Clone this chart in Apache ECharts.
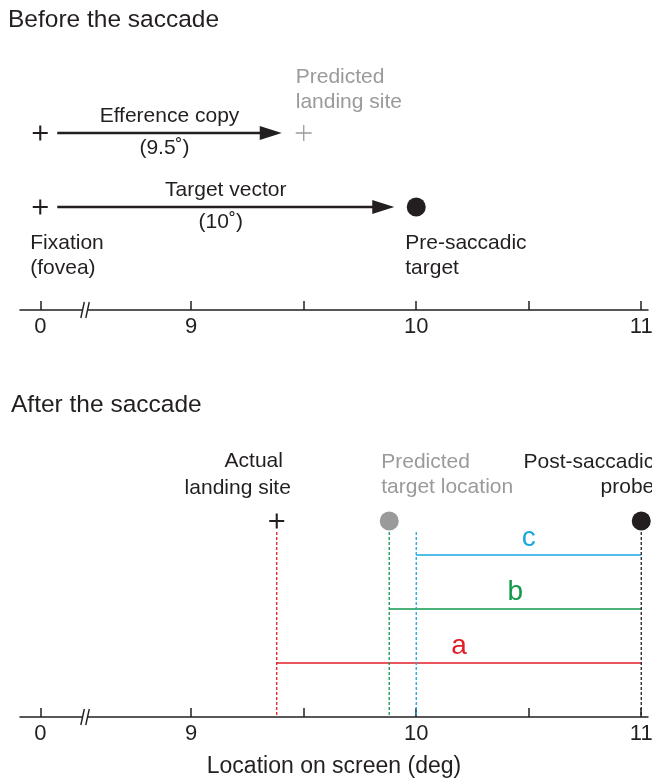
<!DOCTYPE html>
<html>
<head>
<meta charset="utf-8">
<script src="https://cdn.jsdelivr.net/npm/echarts@6/dist/echarts.min.js"></script>
<style>
  html, body { margin: 0; padding: 0; background: #fff; }
  #chart { width: 652px; height: 780px; }
</style>
</head>
<body>
<div id="chart"></div>
<script>
// ---- Values (degrees of visual angle on screen) ----
const tickValues = [0, 9, 9.5, 10, 10.5, 11];
const tickLabels = [0, 9, 10, 11];

const fixation = 0;
const efferenceCopy = 9.5;
const targetVector = 10;

const actualLanding = 9.38;
const predictedTarget = 9.88;
const probe = 11;

const arrowNames = ['Efference copy', 'Target vector'];
const arrowStarts = [fixation, fixation];
const arrowEnds = [efferenceCopy, targetVector];

const errorLetters = ['a', 'b', 'c'];
const errorStarts = [actualLanding, predictedTarget, targetVector];
const errorEnds = [probe, probe, probe];

// ---- Styling / layout ----
const FONT = '"Liberation Sans", Arial, Helvetica, sans-serif';
const INK = '#231f20';
const GREY = '#9a9a9a';
const ERROR_COLORS = ['#e31e26', '#12994a', '#1ba6e0'];

// Axis extent and the compressed stretch between 0 and 9
const AX_MIN = -0.09, AX_MAX = 11.03;
const BREAK_START = 0.187, BREAK_END = 8.538, BREAK_GAP = 0.022;

// Heights (px above each panel's axis line)
const EFF_ROW = 177, TGT_ROW = 103;
const MARK_ROW = 196, DASH_TOP = 185;
const ERROR_ROWS = [54, 108, 162];

const PLUS = 'path://M6.9,0h2.2v6.9h6.9v2.2h-6.9v6.9h-2.2v-6.9h-6.9v-2.2h6.9z';
const PLUS_THIN = 'path://M7.35,0h1.3v7.35h7.35v1.3h-7.35v7.35h-1.3v-7.35h-7.35v-1.3h7.35z';

const chart = echarts.init(document.getElementById('chart'), null, { renderer: 'canvas' });

function xAxisFor(gridIndex, withName) {
  return {
    type: 'value',
    gridIndex,
    min: AX_MIN,
    max: AX_MAX,
    breaks: [{ start: BREAK_START, end: BREAK_END, gap: BREAK_GAP }],
    breakArea: { show: false },
    axisLine: { show: true, lineStyle: { color: INK, width: 1.5 } },
    axisTick: {
      show: true, inside: true, length: 9, customValues: tickValues,
      lineStyle: { color: INK, width: 1.5 }
    },
    axisLabel: {
      show: true, customValues: tickLabels, margin: 6,
      fontSize: 22, color: INK, fontFamily: FONT
    },
    splitLine: { show: false },
    name: withName ? 'Location on screen (deg)' : '',
    nameLocation: 'middle',
    nameGap: 38,
    nameTextStyle: { fontSize: 23, color: INK, fontFamily: FONT }
  };
}

function yAxisFor(gridIndex) {
  return { type: 'value', gridIndex, min: 0, max: 250, show: false };
}

const textStyle = (text, color, size, align) => ({
  text, fill: color, font: `${size}px ${FONT}`, align: align || 'center',
  verticalAlign: 'middle', lineHeight: 25
});

// "//" marks where the axis skips from 0 to 9
function breakSeries(gridIndex) {
  return {
    type: 'custom', xAxisIndex: gridIndex, yAxisIndex: gridIndex,
    silent: true, z: 5,
    data: [[BREAK_START, 0]],
    renderItem(params, api) {
      const s = api.coord([BREAK_START, 0]);
      const e = api.coord([BREAK_END, 0]);
      const y = s[1];
      const slash = (x) => ({
        type: 'line',
        shape: { x1: x + 2, y1: y - 8, x2: x - 1.5, y2: y + 8 },
        style: { stroke: INK, lineWidth: 1.4 }
      });
      return {
        type: 'group',
        children: [
          { type: 'rect', shape: { x: s[0], y: y - 3, width: e[0] - s[0], height: 6 }, style: { fill: '#fff' } },
          slash(s[0]), slash(e[0])
        ]
      };
    }
  };
}

// Text placed relative to a mark, offset in pixels
function annotationSeries(gridIndex, items) {
  return {
    type: 'custom', xAxisIndex: gridIndex, yAxisIndex: gridIndex,
    silent: true, z: 6,
    data: items.map(it => [it.at[0], it.at[1]]),
    renderItem(params, api) {
      const it = items[params.dataIndex];
      const p = api.coord([api.value(0), api.value(1)]);
      return {
        type: 'text', x: p[0] + it.dx, y: p[1] + it.dy,
        style: textStyle(it.text, it.color, it.size || 21, it.align)
      };
    }
  };
}

const markStyle = (color) => ({ color, opacity: 1 });

const option = {
  animation: false,
  backgroundColor: '#fff',
  title: [
    { text: 'Before the saccade', left: 8, top: 8, padding: 0,
      textStyle: { fontSize: 24.5, fontWeight: 'normal', fontFamily: FONT, color: INK } },
    { text: 'After the saccade', left: 11, top: 393, padding: 0,
      textStyle: { fontSize: 24.5, fontWeight: 'normal', fontFamily: FONT, color: INK } }
  ],
  grid: [
    { left: 20, right: 4, top: 60, height: 250, containLabel: false, outerBoundsMode: 'none' },
    { left: 20, right: 4, top: 467, height: 250, containLabel: false, outerBoundsMode: 'none' }
  ],
  xAxis: [xAxisFor(0, false), xAxisFor(1, true)],
  yAxis: [yAxisFor(0), yAxisFor(1)],
  series: [
    // ---------- Before the saccade ----------
    {
      type: 'custom', xAxisIndex: 0, yAxisIndex: 0, silent: true, z: 4,
      data: arrowNames.map((n, i) => [arrowStarts[i], arrowEnds[i], i === 0 ? EFF_ROW : TGT_ROW]),
      encode: { x: [0, 1], y: 2 },
      renderItem(params, api) {
        const i = params.dataIndex;
        const a = api.coord([api.value(0), api.value(2)]);
        const b = api.coord([api.value(1), api.value(2)]);
        const y = a[1];
        const x0 = a[0] + 17;
        const tip = b[0] - 22;
        const headLen = 22, headHalf = 7;
        const mid = (x0 + tip) / 2;
        return {
          type: 'group',
          children: [
            { type: 'line', shape: { x1: x0, y1: y, x2: tip - headLen + 2, y2: y },
              style: { stroke: INK, lineWidth: 2.6 } },
            { type: 'polygon',
              shape: { points: [[tip, y], [tip - headLen, y - headHalf], [tip - headLen, y + headHalf]] },
              style: { fill: INK } },
            { type: 'text', x: mid, y: y - 17, style: textStyle(arrowNames[i], INK, 21) },
            { type: 'text', x: mid - 5, y: y + 15, style: textStyle('(' + arrowEnds[i] + '˚)', INK, 21) }
          ]
        };
      }
    },
    {
      type: 'scatter', xAxisIndex: 0, yAxisIndex: 0, silent: true, z: 4,
      symbol: PLUS, symbolSize: 15, itemStyle: markStyle(INK),
      data: [[fixation, EFF_ROW], [fixation, TGT_ROW]]
    },
    {
      type: 'scatter', xAxisIndex: 0, yAxisIndex: 0, silent: true, z: 4,
      symbol: PLUS_THIN, symbolSize: 16, itemStyle: markStyle(GREY),
      data: [[efferenceCopy, EFF_ROW]]
    },
    {
      type: 'scatter', xAxisIndex: 0, yAxisIndex: 0, silent: true, z: 4,
      symbol: 'circle', symbolSize: 19, itemStyle: markStyle(INK),
      data: [[targetVector, TGT_ROW]]
    },
    annotationSeries(0, [
      { at: [efferenceCopy, EFF_ROW], dx: -8, dy: -43, text: 'Predicted\nlanding site', color: GREY, align: 'left' },
      { at: [fixation, TGT_ROW], dx: -10, dy: 49, text: 'Fixation\n(fovea)', color: INK, align: 'left' },
      { at: [targetVector, TGT_ROW], dx: -11, dy: 49, text: 'Pre-saccadic\ntarget', color: INK, align: 'left' }
    ]),
    breakSeries(0),

    // ---------- After the saccade ----------
    {
      type: 'custom', xAxisIndex: 1, yAxisIndex: 1, silent: true, z: 3,
      data: errorLetters.map((l, i) => [errorStarts[i], errorEnds[i], ERROR_ROWS[i]]),
      encode: { x: [0, 1], y: 2 },
      renderItem(params, api) {
        const i = params.dataIndex;
        const color = ERROR_COLORS[i];
        const a = api.coord([api.value(0), api.value(2)]);
        const b = api.coord([api.value(1), api.value(2)]);
        const top = api.coord([api.value(0), DASH_TOP]);
        const base = api.coord([api.value(0), 0]);
        return {
          type: 'group',
          children: [
            { type: 'line', shape: { x1: top[0], y1: top[1], x2: base[0], y2: base[1] },
              style: { stroke: color, lineWidth: 1.3, lineDash: [3, 2] } },
            { type: 'line', shape: { x1: a[0], y1: a[1], x2: b[0], y2: b[1] },
              style: { stroke: color, lineWidth: 1.6 } },
            { type: 'text', x: (a[0] + b[0]) / 2, y: a[1] - 17,
              style: textStyle(errorLetters[i], color, 28) }
          ]
        };
      }
    },
    {
      type: 'custom', xAxisIndex: 1, yAxisIndex: 1, silent: true, z: 3,
      data: [[probe, DASH_TOP]],
      renderItem(params, api) {
        const top = api.coord([api.value(0), api.value(1)]);
        const base = api.coord([api.value(0), 0]);
        return { type: 'line', shape: { x1: top[0], y1: top[1], x2: base[0], y2: base[1] },
          style: { stroke: INK, lineWidth: 1.3, lineDash: [3, 2] } };
      }
    },
    {
      type: 'scatter', xAxisIndex: 1, yAxisIndex: 1, silent: true, z: 4,
      symbol: PLUS, symbolSize: 15, itemStyle: markStyle(INK),
      data: [[actualLanding, MARK_ROW]]
    },
    {
      type: 'scatter', xAxisIndex: 1, yAxisIndex: 1, silent: true, z: 4,
      symbol: 'circle', symbolSize: 19, itemStyle: markStyle(GREY),
      data: [[predictedTarget, MARK_ROW]]
    },
    {
      type: 'scatter', xAxisIndex: 1, yAxisIndex: 1, silent: true, z: 4,
      symbol: 'circle', symbolSize: 19, itemStyle: markStyle(INK),
      data: [[probe, MARK_ROW]]
    },
    annotationSeries(1, [
      { at: [actualLanding, MARK_ROW], dx: -23, dy: -60, text: 'Actual', color: INK },
      { at: [actualLanding, MARK_ROW], dx: -39, dy: -33, text: 'landing site', color: INK },
      { at: [predictedTarget, MARK_ROW], dx: -8, dy: -46, text: 'Predicted\ntarget location', color: GREY, align: 'left' },
      { at: [probe, MARK_ROW], dx: 13, dy: -46, text: 'Post-saccadic\nprobe', color: INK, align: 'right' }
    ]),
    breakSeries(1)
  ]
};

chart.setOption(option);
</script>
</body>
</html>
